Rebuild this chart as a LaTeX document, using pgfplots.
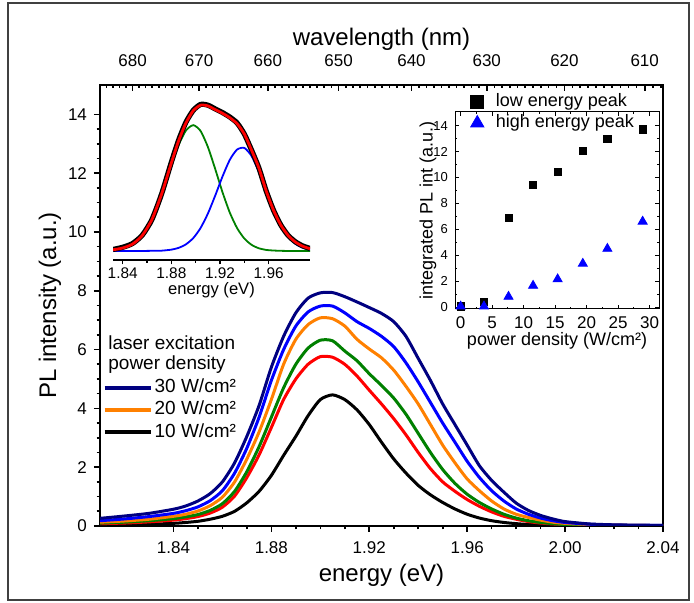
\documentclass[border=0pt]{standalone}
\usepackage{fontspec}
\setmainfont{Liberation Sans}
\usepackage{pgfplots}
\pgfplotsset{compat=1.18}
\usepackage{pgfplotstable}

\definecolor{cnavy}{rgb}{0,0,0.5}
\definecolor{cblue}{rgb}{0,0,1}
\definecolor{corange}{rgb}{1,0.5,0}
\definecolor{cgreen}{rgb}{0,0.5,0}
\definecolor{cred}{rgb}{1,0,0}

% minor ticks of the wavelength axis (every nm), placed on the energy scale
\pgfmathparse{1239.84/684}\xdef\minorlist{\pgfmathresult}
\foreach \l in {608,...,683}{\pgfmathparse{1239.84/\l}\xdef\minorlist{\minorlist,\pgfmathresult}}

\pgfplotstableread{
E      black red  green orange blue navy
1.810  0.03  0.08 0.10  0.13  0.18 0.26
1.820  0.04  0.10 0.13  0.17  0.24 0.34
1.830  0.06  0.14 0.18  0.23  0.32 0.43
1.840  0.09  0.20 0.25  0.33  0.43 0.57
1.845  0.12  0.25 0.31  0.40  0.52 0.68
1.850  0.16  0.32 0.39  0.51  0.65 0.85
1.855  0.23  0.44 0.53  0.69  0.86 1.10
1.860  0.33  0.64 0.76  0.98  1.20 1.50
1.865  0.50  1.02 1.18  1.50  1.80 2.15
1.870  0.79  1.65 1.85  2.28  2.65 3.05
1.875  1.18  2.42 2.70  3.20  3.70 4.10
1.880  1.72  3.35 3.70  4.30  4.95 5.40
1.885  2.40  4.30 4.70  5.50  6.00 6.45
1.890  3.05  5.00 5.50  6.35  6.80 7.25
1.895  3.75  5.50 6.05  6.85  7.28 7.75
1.900  4.30  5.76 6.32  7.08  7.48 7.93
1.905  4.46  5.74 6.30  7.05  7.48 7.94
1.910  4.30  5.50 5.95  6.80  7.25 7.80
1.915  3.95  5.10 5.62  6.35  6.95 7.62
1.920  3.45  4.62 5.18  6.02  6.72 7.43
1.925  2.85  4.15 4.78  5.72  6.45 7.23
1.930  2.28  3.65 4.35  5.30  6.10 6.95
1.935  1.80  3.10 3.80  4.75  5.55 6.45
1.940  1.38  2.50 3.15  4.15  4.90 5.70
1.945  1.06  1.95 2.50  3.45  4.20 4.95
1.950  0.80  1.50 1.92  2.75  3.50 4.15
1.955  0.58  1.18 1.45  2.15  2.85 3.45
1.960  0.40  0.90 1.08  1.60  2.20 2.75
1.965  0.27  0.67 0.80  1.20  1.65 2.05
1.970  0.18  0.48 0.58  0.85  1.20 1.55
1.975  0.12  0.33 0.40  0.58  0.85 1.15
1.980  0.08  0.23 0.27  0.40  0.58 0.78
1.985  0.05  0.15 0.18  0.29  0.40 0.53
1.990  0.035 0.10 0.12  0.20  0.27 0.36
1.995  0.025 0.07 0.08  0.13  0.18 0.24
2.000  0.02  0.05 0.05  0.09  0.12 0.15
2.010  0.01  0.03 0.03  0.05  0.06 0.07
2.020  0.01  0.02 0.02  0.03  0.03 0.04
2.030  0.00  0.01 0.01  0.02  0.02 0.03
2.040  0.00  0.01 0.01  0.01  0.02 0.02
}\mainspectra

\pgfplotstableread{
E      black red   green blue
1.832  0.010 0.008 0.005 0.000
1.840  0.025 0.020 0.016 0.000
1.848  0.050 0.046 0.043 0.000
1.856  0.106 0.104 0.104 0.000
1.864  0.212 0.212 0.215 0.001
1.872  0.386 0.385 0.380 0.002
1.880  0.600 0.595 0.578 0.009
1.886  0.750 0.745 0.716 0.021
1.892  0.870 0.865 0.814 0.045
1.898  0.950 0.948 0.850 0.087
1.904  0.990 0.985 0.811 0.155
1.910  0.985 0.980 0.703 0.252
1.916  0.960 0.955 0.555 0.373
1.922  0.935 0.930 0.398 0.502
1.928  0.905 0.900 0.260 0.615
1.934  0.865 0.860 0.155 0.685
1.940  0.790 0.790 0.084 0.696
1.946  0.680 0.680 0.041 0.641
1.952  0.560 0.560 0.018 0.533
1.958  0.405 0.405 0.007 0.402
1.964  0.275 0.275 0.003 0.274
1.970  0.175 0.175 0.001 0.170
1.976  0.105 0.105 0.000 0.095
1.982  0.062 0.060 0.000 0.048
1.988  0.034 0.032 0.000 0.022
1.994  0.017 0.015 0.000 0.009
}\fitspectra

\pgfplotstableread{
P     low   high
0.0   0.05  0.05
3.7   0.40  0.05
7.6   6.90  0.80
11.5  9.40  1.65
15.4  10.45 2.15
19.4  12.05 3.35
23.3  12.95 4.50
28.9  13.70 6.60
}\integrated

\begin{document}
\begin{tikzpicture}
\useasboundingbox (0pt,0pt) rectangle (347pt,301.5pt);
\draw[line width=0.6pt, black!75] (4pt,1.5pt) rectangle (344.5pt,300pt);

% ---------------- main axis ----------------
\begin{axis}[
  at={(50pt,38.5pt)}, anchor=south west, scale only axis,
  width=281.5pt, height=220.5pt,
  xmin=1.81, xmax=2.04, ymin=0, ymax=15,
  xtick={1.84,1.88,1.92,1.96,2.00,2.04}, minor x tick num=3,
  ytick={0,2,4,6,8,10,12,14}, minor y tick num=3,
  xtick pos=left, ytick pos=left, tick align=outside,
  major tick length=3pt, minor tick length=1.7pt,
  axis line style={line width=1.2pt},
  every tick/.style={black, line width=0.8pt},
  /pgf/number format/assume math mode=true,
  xticklabel style={/pgf/number format/fixed, /pgf/number format/fixed zerofill, /pgf/number format/precision=2, yshift=-1.5pt},
  tick label style={font=\fontsize{8.5}{10}\selectfont},
  xlabel={energy (eV)}, ylabel={PL intensity (a.u.)},
  label style={font=\fontsize{12}{14}\selectfont},
  xlabel style={at={(axis description cs:0.5,-0.111)}, anchor=center},
  ylabel style={at={(axis description cs:-0.089,0.5)}, anchor=center},
  legend style={at={(rel axis cs:0.004,0.340)}, anchor=north west, draw=none, fill=none,
    inner sep=0pt, row sep=0pt, font=\fontsize{9.5}{11}\selectfont,
    nodes={inner sep=1pt, text height=7pt, text depth=2.2pt}},
  legend cell align=left,
  legend image code/.code={\draw[#1, line width=2pt] (0pt,0pt) -- (23pt,0pt);},
]
\addplot[black,   line width=1.5pt, smooth, tension=0.4, forget plot] table[x=E, y=black]  {\mainspectra};
\addplot[cred,    line width=1.5pt, smooth, tension=0.4, forget plot] table[x=E, y=red]    {\mainspectra};
\addplot[cgreen,  line width=1.5pt, smooth, tension=0.4, forget plot] table[x=E, y=green]  {\mainspectra};
\addplot[corange, line width=1.5pt, smooth, tension=0.4, forget plot] table[x=E, y=orange] {\mainspectra};
\addplot[cblue,   line width=1.5pt, smooth, tension=0.4, forget plot] table[x=E, y=blue]   {\mainspectra};
\addplot[cnavy,   line width=1.5pt, smooth, tension=0.4, forget plot] table[x=E, y=navy]   {\mainspectra};
\addlegendimage{cnavy}
\addlegendentry{30 W/cm²}
\addlegendimage{corange}
\addlegendentry{20 W/cm²}
\addlegendimage{black}
\addlegendentry{10 W/cm²}
\node[anchor=west, inner sep=0pt, font=\fontsize{9.5}{11}\selectfont] at (rel axis cs:0.0142,0.415) {laser excitation};
\node[anchor=west, inner sep=0pt, font=\fontsize{9.5}{11}\selectfont] at (rel axis cs:0.0142,0.365) {power density};
\end{axis}

% ---------------- top wavelength axis ----------------
\begin{axis}[
  at={(50pt,38.5pt)}, anchor=south west, scale only axis,
  width=281.5pt, height=220.5pt,
  xmin=1.81, xmax=2.04, ymin=0, ymax=15,
  axis x line*=top, axis y line=none,
  xtick={1.82329,1.85051,1.87855,1.90745,1.93725,1.96800,1.99974,2.03252},
  xticklabels={680,670,660,650,640,630,620,610},
  minor xtick/.expanded={\minorlist},
  tick align=inside, major tick length=3pt, minor tick length=1.7pt,
  axis line style={line width=1.2pt},
  every tick/.style={black, line width=0.8pt},
  tick label style={font=\fontsize{8.5}{10}\selectfont},
  xticklabel style={yshift=5.5pt},
  xlabel={wavelength (nm)},
  xlabel style={at={(axis description cs:0.5,1.104)}, anchor=center, font=\fontsize{12}{14}\selectfont},
]
\end{axis}

% ---------------- inset: peak decomposition ----------------
\begin{axis}[
  at={(56.5pt,171.5pt)}, anchor=south west, scale only axis,
  width=98.5pt, height=82pt,
  xmin=1.832, xmax=1.994, ymin=-0.061, ymax=1.047,
  axis x line*=bottom, axis y line=none,
  xtick={1.84,1.88,1.92,1.96}, minor x tick num=1,
  tick align=outside, major tick length=2.2pt, minor tick length=1.3pt,
  axis line style={line width=0.8pt},
  every tick/.style={black, line width=0.6pt},
  /pgf/number format/assume math mode=true,
  xticklabel style={/pgf/number format/fixed, /pgf/number format/fixed zerofill, /pgf/number format/precision=2, font=\fontsize{7.7}{9}\selectfont, yshift=2pt},
  xlabel={energy (eV)},
  xlabel style={at={(axis description cs:0.5,-0.185)}, anchor=center, font=\fontsize{8.3}{10}\selectfont},
]
\addplot[cgreen, line width=0.9pt, smooth, tension=0.4] table[x=E, y=green] {\fitspectra};
\addplot[cblue,  line width=0.9pt, smooth, tension=0.4] table[x=E, y=blue]  {\fitspectra};
\addplot[black,  line width=2.6pt, smooth, tension=0.4] table[x=E, y=black] {\fitspectra};
\addplot[cred,   line width=1.4pt, smooth, tension=0.4] table[x=E, y=red]   {\fitspectra};
\end{axis}

% ---------------- inset: integrated PL ----------------
\begin{axis}[
  at={(227.5pt,147pt)}, anchor=south west, scale only axis,
  width=102pt, height=98.5pt,
  xmin=-0.9, xmax=31.5, ymin=-0.15, ymax=15.05,
  xtick={0,5,10,15,20,25,30}, ytick={0,2,4,6,8,10,12,14},
  minor x tick num=1, minor y tick num=1,
  tick align=inside, major tick length=2.2pt, minor tick length=1.2pt,
  axis line style={line width=0.5pt},
  every tick/.style={black, line width=0.5pt},
  /pgf/number format/assume math mode=true,
  xticklabel style={font=\fontsize{8.5}{10}\selectfont, yshift=-0.5pt},
  yticklabel style={font=\fontsize{6.5}{8}\selectfont},
  xlabel={power density (W/cm²)}, ylabel={integrated PL int (a.u.)},
  label style={font=\fontsize{9}{11}\selectfont},
  xlabel style={at={(axis description cs:0.5,-0.16)}, anchor=center},
  ylabel style={at={(axis description cs:-0.132,0.5)}, anchor=center},
  legend style={at={(rel axis cs:0.075,1.11)}, anchor=north west, draw=none, fill=none,
    inner sep=0pt, row sep=0pt, font=\fontsize{9}{11}\selectfont,
    nodes={inner sep=1pt, text height=6.8pt, text depth=2pt},
    /tikz/every odd column/.append style={column sep=5pt}},
  legend cell align=left,
]
\addplot[only marks, mark=square*, mark size=1.8pt, black, forget plot] table[x=P, y=low] {\integrated};
\addplot[only marks, mark=triangle*, mark size=2.6pt, cblue, forget plot] table[x=P, y=high] {\integrated};
\addlegendimage{only marks, mark=square*, mark size=3.2pt, black}
\addlegendentry{low energy peak}
\addlegendimage{only marks, mark=triangle*, mark size=3.8pt, cblue}
\addlegendentry{high energy peak}
\end{axis}
\end{tikzpicture}
\end{document}
